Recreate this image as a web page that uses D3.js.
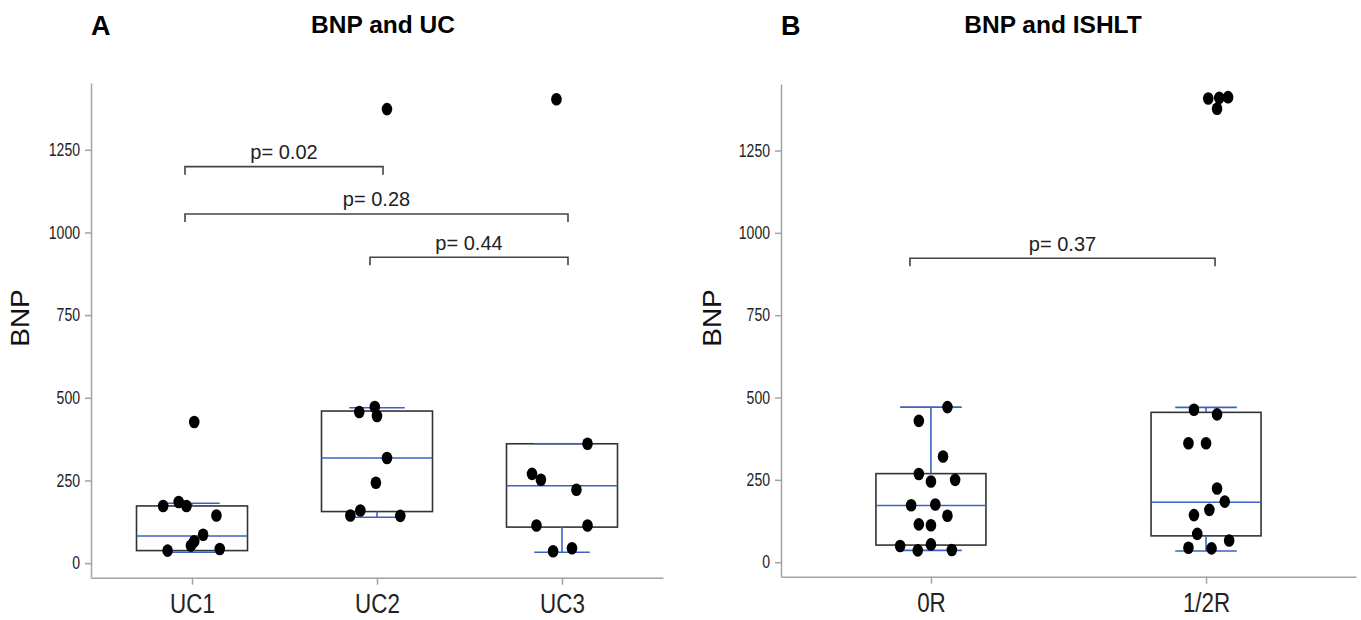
<!DOCTYPE html>
<html>
<head>
<meta charset="utf-8">
<script src="https://cdn.jsdelivr.net/npm/d3@7"></script>
<style>
  body { margin: 0; background: #fff; }
  text { font-family: 'Liberation Sans', Arial, sans-serif; }
</style>
</head>
<body>
<svg id="root"></svg>
<script>
// categories and ticks
var ucCats = ['UC1', 'UC2', 'UC3'],
    ishltCats = ['0R', '1/2R'],
    yTicks = [0, 250, 500, 750, 1000, 1250];

// BNP values per group
var uc1Values = [173, 185, 173, 144, 86, 66, 53, 38, 43, 427],
    uc2Values = [457, 472, 445, 318, 243, 159, 144, 143, 1373],
    uc3Values = [361, 270, 252, 222, 114, 114, 36, 45, 1403],
    r0Values = [471, 429, 321, 268, 245, 250, 173, 175, 141, 115, 112, 49, 54, 36, 37],
    r12Values = [463, 449, 361, 361, 224, 184, 159, 143, 86, 66, 44, 42, 1408, 1410, 1412, 1377];

// horizontal spread of the dots, as a fraction of the box width
var uc1Jitter = [-0.26, -0.12, -0.05, 0.22, 0.10, 0.02, -0.01, -0.22, 0.25, 0.02],
    uc2Jitter = [-0.16, -0.02, 0.00, 0.09, -0.01, -0.15, -0.24, 0.21, 0.09],
    uc3Jitter = [0.23, -0.27, -0.19, 0.13, -0.23, 0.23, -0.08, 0.09, -0.05],
    r0Jitter = [0.15, -0.11, 0.11, -0.11, 0.00, 0.22, -0.18, 0.04, 0.15, -0.11, 0.00, -0.28, 0.00, -0.12, 0.19],
    r12Jitter = [-0.11, 0.10, -0.16, 0.00, 0.10, 0.17, 0.03, -0.11, -0.08, 0.21, -0.16, 0.05, 0.02, 0.12, 0.20, 0.10];

// box stats: [lower whisker, q1, median, q3, upper whisker]
var ucBoxes = [[33, 38, 82, 173, 181], [139, 156, 318, 460, 470], [33, 109, 234, 361, 361]],
    ishltBoxes = [[36, 52, 172, 269, 471], [34, 80, 182, 455, 470]];

// comparisons: [from, to, label, height in BNP]
var ucTests = [['UC1', 'UC2', 'p= 0.02', 1199], ['UC1', 'UC3', 'p= 0.28', 1056], ['UC2', 'UC3', 'p= 0.44', 925]],
    ishltTests = [['0R', '1/2R', 'p= 0.37', 923]];

var width = 1361,
    height = 620,
    root = d3.select('#root')
        .attr('width', width)
        .attr('height', height),
    blue = '#3b63c6',
    axisGrey = '#a3a3a3';

root.append('rect')
    .attr('width', width)
    .attr('height', height)
    .attr('fill', '#fff');

drawPanel({
    letter: 'A', title: 'BNP and UC', titleX: 383, letterX: 91, labelX: 29,
    cats: ucCats, boxes: ucBoxes, tests: ucTests,
    values: [uc1Values, uc2Values, uc3Values],
    jitter: [uc1Jitter, uc2Jitter, uc3Jitter],
    xRange: [91, 663], yRange: [577.7, 83], pad: 0.546,
    boxW: 111, capW: 0.5, bracketPad: [-7, 6]
});

drawPanel({
    letter: 'B', title: 'BNP and ISHLT', titleX: 1053, letterX: 781, labelX: 721,
    cats: ishltCats, boxes: ishltBoxes, tests: ishltTests,
    values: [r0Values, r12Values],
    jitter: [r0Jitter, r12Jitter],
    xRange: [781, 1356], yRange: [576.7, 84], pad: 0.545,
    boxW: 110, capW: 0.56, bracketPad: [-21, 9]
});

function drawPanel(p) {
    var x = d3.scalePoint().domain(p.cats).range(p.xRange).padding(p.pad),
        y = d3.scaleLinear().domain([-44, 1452]).range(p.yRange),
        g = root.append('g');

    // titles
    g.append('text')
        .attr('x', p.letterX).attr('y', 35)
        .style('font-size', '27px').attr('font-weight', 'bold')
        .text(p.letter);
    g.append('text')
        .attr('x', p.titleX).attr('y', 33)
        .attr('text-anchor', 'middle')
        .style('font-size', '24.5px').attr('font-weight', 'bold')
        .text(p.title);
    g.append('text')
        .attr('transform', 'translate(' + p.labelX + ',' + 318 + ') rotate(-90) scale(1.12,1)')
        .attr('text-anchor', 'middle')
        .style('font-size', '25px')
        .attr('fill', '#111')
        .text('BNP');

    // axes
    var yAxis = g.append('g')
        .attr('transform', 'translate(' + p.xRange[0] + ',0)')
        .call(d3.axisLeft(y).tickValues(yTicks).tickFormat(d3.format('d'))
            .tickSize(6).tickSizeOuter(0));
    yAxis.selectAll('text')
        .attr('x', -11 / 0.78)
        .attr('transform', 'scale(0.78,1)')
        .style('font-size', '18px')
        .attr('fill', '#222');

    var xAxis = g.append('g')
        .attr('transform', 'translate(0,' + p.yRange[0] + ')')
        .call(d3.axisBottom(x).tickSize(7).tickSizeOuter(0));
    xAxis.selectAll('text')
        .attr('y', 35.5).attr('dy', 0)
        .attr('transform', 'scale(0.8,1)')
        .style('font-size', '28px')
        .attr('fill', '#222');

    g.selectAll('.domain, .tick line')
        .attr('stroke', axisGrey)
        .attr('stroke-width', 1.5);

    // boxes
    var box = g.selectAll('.box')
        .data(p.boxes)
        .enter()
            .append('g')
            .attr('class', 'box')
            .attr('transform', function(d, i) {
                return 'translate(' + x(p.cats[i]) + ',0)';
            });

    box.append('rect')
        .attr('x', -p.boxW / 2)
        .attr('width', p.boxW)
        .attr('y', function(d) { return y(d[3]); })
        .attr('height', function(d) { return y(d[1]) - y(d[3]); })
        .attr('fill', 'none')
        .attr('stroke', '#333')
        .attr('stroke-width', 1.6);

    box.append('line')
        .attr('x1', -p.boxW / 2).attr('x2', p.boxW / 2)
        .attr('y1', function(d) { return y(d[2]); })
        .attr('y2', function(d) { return y(d[2]); })
        .attr('stroke', blue).attr('stroke-width', 1.6);

    [[0, 1], [4, 3]].forEach(function(w) {
        box.append('line')
            .attr('x1', 0).attr('x2', 0)
            .attr('y1', function(d) { return y(d[w[0]]); })
            .attr('y2', function(d) { return y(d[w[1]]); })
            .attr('stroke', blue).attr('stroke-width', 1.6);
        box.append('line')
            .attr('x1', -p.boxW * p.capW / 2).attr('x2', p.boxW * p.capW / 2)
            .attr('y1', function(d) { return y(d[w[0]]); })
            .attr('y2', function(d) { return y(d[w[0]]); })
            .attr('stroke', blue).attr('stroke-width', 1.6);
    });

    // dots
    p.cats.forEach(function(c, i) {
        g.selectAll('.dot' + i)
            .data(p.values[i])
            .enter()
                .append('ellipse')
                .attr('class', 'dot' + i)
                .attr('cx', function(d, j) { return x(c) + p.jitter[i][j] * p.boxW; })
                .attr('cy', function(d) { return y(d); })
                .attr('rx', 5.3)
                .attr('ry', 6.3)
                .attr('fill', '#000');
    });

    // significance brackets
    var br = g.selectAll('.bracket')
        .data(p.tests)
        .enter()
            .append('g')
            .attr('class', 'bracket');

    br.append('path')
        .attr('d', function(d) {
            var x1 = x(d[0]) + p.bracketPad[0],
                x2 = x(d[1]) + p.bracketPad[1],
                yy = y(d[3]);
            return 'M' + x1 + ',' + (yy + 8) + 'V' + yy + 'H' + x2 + 'V' + (yy + 8);
        })
        .attr('fill', 'none')
        .attr('stroke', '#444')
        .attr('stroke-width', 1.6);

    br.append('text')
        .attr('x', function(d) { return (x(d[0]) + x(d[1])) / 2 + (p.bracketPad[0] + p.bracketPad[1]) / 2; })
        .attr('y', function(d) { return y(d[3]) - 7.5; })
        .attr('text-anchor', 'middle')
        .style('font-size', '20px')
        .attr('fill', '#222')
        .text(function(d) { return d[2]; });
}
</script>
</body>
</html>
